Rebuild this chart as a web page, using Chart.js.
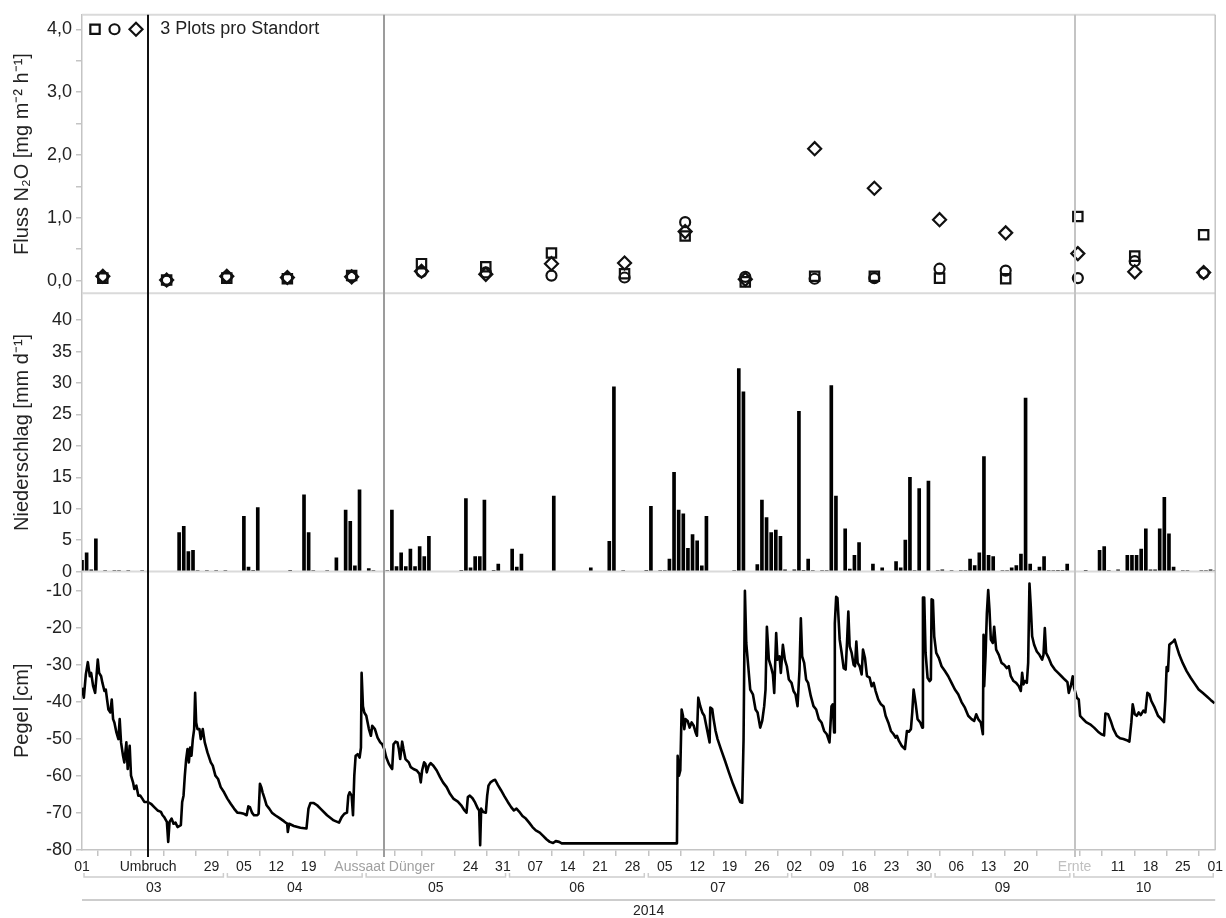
<!DOCTYPE html>
<html>
<head>
<meta charset="utf-8">
<script src="https://cdn.jsdelivr.net/npm/chart.js@4.4.1/dist/chart.umd.min.js"></script>
<style>
  html, body { margin: 0; padding: 0; background: #fff; }
</style>
</head>
<body>
<canvas id="chart" width="1226" height="918"></canvas>
<script>
// x values are days since 01.03.2014

// N2O flux per sampling date, three plots per site
const fluxDays = [4.5, 18.3, 31.3, 44.4, 58.3, 73.4, 87.3, 101.5, 117.3, 130.4, 143.4, 158.4, 171.3, 185.4, 199.7, 215.3, 227.6, 242.5];
const fluxPlotA = [0.04, 0.01, 0.04, 0.03, 0.08, 0.27, 0.22, 0.44, 0.11, 0.71, -0.02, 0.07, 0.07, 0.04, 0.03, 1.02, 0.39, 0.73];
const fluxPlotB = [0.06, 0.00, 0.06, 0.04, 0.06, 0.14, 0.13, 0.08, 0.05, 0.93, 0.06, 0.03, 0.04, 0.19, 0.16, 0.04, 0.31, 0.12];
const fluxPlotC = [0.07, 0.01, 0.07, 0.05, 0.06, 0.15, 0.10, 0.27, 0.28, 0.78, 0.02, 2.10, 1.47, 0.97, 0.76, 0.43, 0.14, 0.13];

// daily precipitation (days without rain left out)
const rainDays = [
  0, 1, 2, 3, 5, 7, 8, 10, 13, 21,
  22, 23, 24, 25, 27, 29, 31, 35, 36, 37,
  38, 45, 48, 49, 50, 53, 55, 57, 58, 59,
  60, 62, 63, 66, 67, 68, 69, 70, 71, 72,
  73, 74, 75, 82, 83, 84, 85, 86, 87, 89,
  90, 93, 94, 95, 102, 110, 114, 115, 117, 122,
  123, 125, 126, 127, 128, 129, 130, 131, 132, 133,
  134, 135, 141, 142, 143, 146, 147, 148, 149, 150,
  151, 152, 154, 155, 156, 157, 158, 160, 161, 162,
  163, 165, 166, 167, 168, 171, 173, 176, 177, 178,
  179, 180, 181, 183, 185, 186, 188, 190, 191, 192,
  193, 194, 195, 196, 197, 199, 200, 201, 202, 203,
  204, 205, 206, 207, 208, 209, 210, 211, 212, 213,
  217, 220, 221, 222, 224, 226, 227, 228, 229, 230,
  231, 232, 233, 234, 235, 236, 238, 239, 242, 243,
  244, 245
];
const rainMm = [
  1.8, 3.0, 0.3, 5.2, 0.1, 0.1, 0.1, 0.1, 0.1, 6.2,
  7.2, 3.2, 3.4, 0.1, 0.1, 0.1, 0.1, 8.8, 0.7, 0.2,
  10.2, 0.2, 12.2, 6.2, 0.1, 0.1, 2.2, 9.8, 8.0, 0.9,
  13.0, 0.5, 0.15, 0.1, 9.8, 0.8, 3.0, 0.8, 3.6, 0.8,
  4.0, 2.4, 5.6, 0.2, 11.6, 0.6, 2.4, 2.4, 11.4, 0.2,
  1.2, 3.6, 0.7, 2.8, 12.0, 0.6, 4.8, 29.4, 0.1, 0.2,
  10.4, 0.1, 0.1, 2.0, 15.8, 9.8, 9.2, 3.7, 5.9, 4.9,
  0.9, 8.8, 0.1, 32.3, 28.6, 1.1, 11.4, 8.6, 6.2, 6.6,
  5.6, 0.3, 0.3, 25.5, 0.2, 2.0, 0.1, 0.1, 0.1, 29.6,
  12.0, 6.8, 0.4, 2.6, 4.6, 1.2, 0.6, 1.6, 0.6, 5.0,
  15.0, 0.1, 13.2, 14.4, 0.1, 0.3, 0.1, 0.1, 0.1, 2.0,
  0.95, 3.0, 18.3, 2.6, 2.4, 0.1, 0.1, 0.6, 0.95, 2.8,
  27.6, 1.2, 0.1, 0.7, 2.4, 0.1, 0.1, 0.2, 0.2, 1.2,
  0.2, 3.4, 4.0, 0.1, 0.3, 2.6, 2.6, 2.6, 3.6, 6.8,
  0.3, 0.3, 6.8, 11.8, 6.0, 0.7, 0.1, 0.1, 0.1, 0.1,
  0.3, 0.1
];

// water table (Pegel)
const levelDays = [
  0, 0.4, 0.83, 1.26, 1.69, 1.98, 2.41, 2.84, 3.13, 3.41,
  3.7, 4.13, 4.42, 4.85, 5.14, 5.42, 5.71, 6.14, 6.43, 6.72,
  7.0, 7.44, 7.87, 8.15, 8.44, 8.87, 9.16, 9.59, 9.88, 10.31,
  10.6, 11.03, 11.31, 11.75, 12.18, 12.61, 13.04, 13.47, 14.19, 14.91,
  15.62, 16.34, 17.06, 17.42, 17.78, 18.35, 18.64, 18.93, 19.36, 19.79,
  20.22, 20.65, 21.37, 21.66, 21.95, 22.23, 22.52, 22.81, 23.1, 23.38,
  23.67, 23.96, 24.25, 24.46, 24.68, 24.96, 25.39, 25.68, 26.11, 26.54,
  27.12, 27.84, 28.27, 28.84, 29.42, 29.99, 30.71, 31.43, 32.15, 32.87,
  33.58, 34.3, 35.02, 35.6, 35.96, 36.31, 36.75, 37.18, 37.9, 38.18,
  38.47, 38.76, 39.04, 39.48, 39.91, 40.48, 41.06, 41.77, 42.64, 43.64,
  44.36, 44.5, 44.79, 45.8, 47.23, 48.53, 48.96, 49.39, 50.11, 50.83,
  51.55, 52.98, 54.42, 55.57, 56.14, 56.72, 57.29, 57.58, 57.87, 58.3,
  58.59, 58.87, 59.16, 59.59, 60.02, 60.31, 60.45, 60.74, 61.03, 61.46,
  62.03, 62.46, 62.75, 63.33, 63.9, 64.48, 64.91, 65.34, 65.77, 66.34,
  66.77, 67.06, 67.35, 67.78, 68.21, 68.5, 68.79, 69.22, 69.5, 69.93,
  70.65, 71.08, 71.66, 72.38, 72.95, 73.24, 73.53, 73.96, 74.25, 74.53,
  74.96, 75.39, 75.97, 76.69, 77.41, 78.05, 78.84, 79.56, 80.28,
  81.26, 81.98, 82.7, 83.13, 83.42, 83.85, 84.43, 85.0, 85.58, 85.87,
  86.08, 86.3, 86.73, 87.31, 87.6, 87.88, 88.32, 88.89, 89.32, 89.9,
  90.62, 91.34, 92.06, 92.78, 93.36, 93.93, 94.51, 95.23, 95.95, 96.67,
  97.39, 98.11, 98.97, 99.69, 100.41, 101.13, 101.85, 102.43, 103.15, 103.72,
  128.63, 128.78, 129.06, 129.35, 129.64, 129.93, 130.22, 130.5, 130.94, 131.37,
  131.8, 132.23, 132.66, 132.95, 133.24, 133.67, 134.1, 134.54, 134.97, 135.4,
  135.69, 135.83, 136.26, 136.55, 136.98, 137.41, 138.13, 139.0, 139.86, 140.73,
  141.59, 142.31, 142.74, 143.03, 143.32, 143.61, 144.04, 144.47, 145.05, 145.62,
  146.06, 146.63, 147.06, 147.49, 147.78, 148.07, 148.5, 148.94, 149.37, 149.66,
  150.08, 150.37, 150.8, 151.09, 151.53, 151.96, 152.39, 152.82, 153.4, 153.83,
  154.26, 154.7, 155.13, 155.41, 155.7, 156.13, 156.56, 156.99, 157.57, 158.15,
  158.73, 159.3, 159.88, 160.45, 161.03, 161.61, 162.04, 162.33, 162.61, 162.76,
  163.05, 163.33,
  163.81, 164.24, 164.67, 165.1, 165.39, 165.68, 165.97, 166.4, 166.83, 167.12,
  167.41, 167.7, 168.13, 168.56, 168.85, 169.28, 169.71, 170.29, 170.72, 171.15,
  171.58, 172.16, 172.74, 173.31, 173.74, 174.32, 174.89, 175.47, 175.9, 176.19,
  176.62, 177.2, 177.92, 178.35, 178.78, 179.21, 179.5, 179.79, 180.22, 180.65,
  181.23, 181.66, 181.81, 182.09, 182.38, 182.81, 183.25, 183.53, 183.68, 183.97,
  184.25, 184.69, 185.26, 185.84, 186.56, 187.28, 188.0, 188.72, 189.44, 190.16,
  190.88, 191.6, 192.32, 192.89, 193.33, 193.76, 194.33, 194.77, 194.91, 195.05,
  195.34, 195.63, 195.92, 196.2, 196.49, 196.93, 197.21, 197.64, 198.22, 198.8,
  199.37, 199.95, 200.38, 200.81, 201.39, 201.96, 202.54, 202.97, 203.26, 203.55,
  203.84, 204.27, 204.56, 204.84, 205.13, 205.42, 205.85, 206.43, 207.0, 207.58,
  207.87, 208.16, 208.44, 209.02, 209.6, 210.32, 211.04, 211.76, 212.47, 213.05,
  213.34, 213.77, 214.2, 214.49, 215.07, 215.5, 215.79, 216.36, 217.08, 217.95,
  218.81, 219.67, 220.4, 220.97, 221.26, 221.84, 222.41, 222.99, 223.71, 224.43,
  225.15, 225.87, 226.44, 226.87, 227.16, 227.6, 228.03, 228.46, 228.89, 229.47,
  229.9, 230.33, 230.76, 231.19, 231.91, 232.63, 233.35, 233.93, 234.22, 234.5,
  234.79, 235.08, 235.51, 235.94, 236.23, 236.66, 237.24, 237.96, 238.82, 239.69,
  240.55, 241.42, 242.28, 243.14, 244.01, 244.87
];
const levelCm = [
  -36.1, -38.8, -32.5, -29.2, -33.0, -32.1, -35.7, -37.5, -33.0, -28.5,
  -32.1, -33.0, -34.8, -37.0, -36.6, -39.3, -42.0, -42.8, -39.3, -44.6,
  -45.5, -48.2, -50.0, -44.6, -50.9, -54.5, -56.3, -50.9, -58.1, -51.8,
  -59.9, -61.7, -63.5, -62.6, -65.3, -65.3, -66.1, -67.0, -67.0, -67.5,
  -68.4, -69.3, -69.7, -70.6, -71.1, -72.4, -77.8, -72.4, -71.5, -72.9,
  -72.6, -73.8, -73.3, -67.0, -65.3, -59.9, -55.4, -52.7, -56.3, -52.3,
  -54.5, -50.0, -47.3, -37.5, -45.5, -47.3, -47.3, -50.0, -47.3, -50.9,
  -53.6, -56.3, -57.2, -59.9, -60.8, -63.0, -64.4, -66.1, -67.5, -68.8,
  -69.9, -70.0, -70.2, -70.6, -68.2, -68.4, -69.9, -70.6, -70.6, -70.2,
  -62.1, -63.0, -64.4, -66.1, -67.9, -68.8, -69.9, -70.6, -71.3, -72.2,
  -72.9, -75.1, -72.9, -73.5, -74.0, -74.2, -68.8, -67.3, -67.3, -67.9,
  -68.8, -70.6, -72.0, -72.6, -71.1, -70.2, -69.9, -65.3, -64.4, -65.3,
  -70.6, -59.9, -54.5, -54.1, -55.0, -52.3, -32.1, -41.1, -42.8, -43.7,
  -47.3, -49.1, -46.4, -47.3, -49.6, -50.9, -51.4, -52.7, -54.9, -56.7,
  -57.6, -58.1, -51.4, -50.7, -50.9, -52.7, -55.4, -50.7, -52.7, -55.4,
  -56.3, -57.6, -58.1, -58.5, -59.4, -61.7, -58.5, -56.3, -56.7, -59.0,
  -57.2, -56.5, -57.2, -58.5, -60.3, -61.7, -63.0, -64.8, -66.1,
  -66.9, -67.9, -69.3, -69.9, -65.7, -65.3, -66.0, -67.2, -68.8, -69.3,
  -78.7, -68.8, -69.7, -69.9, -65.3, -62.6, -61.7, -61.2, -61.0, -62.4,
  -63.9, -65.5, -67.0, -68.4, -69.3, -68.8, -69.6, -70.8, -71.5, -72.6,
  -73.8, -74.7, -75.3, -76.2, -77.1, -77.8, -78.1, -77.6, -77.8, -78.2,
  -78.2, -54.5, -59.9, -58.5, -42.0, -43.7, -47.3, -44.6, -45.1, -46.9,
  -45.5, -46.3, -48.2, -49.1, -38.8, -41.1, -42.8, -43.7, -46.4, -49.1,
  -50.9, -41.5, -41.9, -44.6, -47.8, -50.0, -52.7, -55.8, -59.0, -62.1,
  -64.8, -67.0, -67.2, -50.0, -9.9, -24.0, -30.3, -36.6, -37.9, -42.0,
  -42.8, -46.9, -45.1, -41.1, -36.6, -19.6, -28.5, -30.3, -32.5, -37.5,
  -21.3, -28.5, -27.6, -32.1, -24.5, -28.5, -30.3, -33.9, -34.8, -37.0,
  -37.9, -41.1, -31.2, -17.3, -27.6, -29.4, -33.9, -34.8, -38.4, -41.1,
  -42.0, -44.6, -45.5, -47.8, -48.7, -50.9, -41.1, -40.6, -48.2, -18.7,
  -11.5, -11.9,
  -23.1, -26.7, -30.8, -31.2, -24.0, -15.5, -24.9, -26.7, -29.9, -30.3,
  -23.6, -29.4, -30.3, -32.5, -25.8, -28.1, -33.0, -33.4, -35.7, -34.8,
  -37.0, -39.3, -40.6, -41.2, -43.7, -45.5, -47.8, -48.7, -49.6, -49.1,
  -50.5, -51.8, -52.7, -47.8, -48.0, -47.3, -42.8, -36.6, -40.2, -44.6,
  -45.5, -46.9, -11.7, -11.7, -26.7, -33.4, -34.3, -33.9, -12.2, -12.4,
  -22.2, -26.7, -28.1, -30.3, -31.6, -33.0, -34.8, -36.6, -37.9, -40.0,
  -41.5, -43.7, -44.6, -45.1, -43.3, -44.6, -45.5, -48.7, -21.8, -35.7,
  -27.6, -16.0, -9.7, -15.1, -23.1, -24.0, -19.6, -25.8, -27.2, -29.4,
  -29.9, -30.8, -30.3, -33.0, -34.3, -34.8, -35.7, -37.0, -32.1, -35.2,
  -34.3, -34.8, -29.4, -7.9, -14.2, -22.2, -24.5, -26.3, -27.2, -28.5,
  -27.2, -20.0, -26.7, -28.1, -29.9, -31.2, -32.1, -33.0, -33.9, -34.6,
  -37.5, -35.7, -33.0, -36.1, -38.8, -39.3, -43.7, -44.5, -45.4, -46.0,
  -46.9, -48.0, -48.7, -49.0, -43.1, -43.3, -45.1, -47.3, -49.1, -49.8,
  -50.0, -50.3, -50.7, -45.5, -40.6, -43.3, -43.7, -42.8, -43.5, -42.3,
  -42.8, -37.5, -37.9, -39.7, -41.5, -43.7, -44.6, -45.4, -39.3, -30.5,
  -31.6, -24.5, -24.0, -23.6, -23.1, -24.9, -27.2, -29.4, -31.6, -33.4,
  -35.0, -36.6, -37.5, -38.4, -39.4, -40.3
];

// field operations
const eventDays = [14.3, 65.4, 214.6];
const eventLabels = ['Umbruch', 'Aussaat Dünger', 'Ernte'];

// weekly tick labels (one every 7 days from day 0), blanks where an event label sits
const weekLabels = [
  '01', '', '', '', '29', '05', '12', '19', '', '',
  '', '', '24', '31', '07', '14', '21', '28', '05', '12',
  '19', '26', '02', '09', '16', '23', '30', '06', '13', '20',
  '', '', '11', '18', '25', '01'
];
const monthStarts = [0, 31, 61, 92, 122, 153, 184, 214, 245];
const monthLabels = ['03', '04', '05', '06', '07', '08', '09', '10'];
const yearLabel = '2014';

const fluxTicks = [0, 0.5, 1, 1.5, 2, 2.5, 3, 3.5, 4];
const rainTicks = [0, 5, 10, 15, 20, 25, 30, 35, 40];
const levelTicks = [-80, -70, -60, -50, -40, -30, -20, -10];

const plotStyles = ['rect', 'circle', 'rectRot'];
const plotRadius = [6.6, 5, 6.5];
const eventColors = ['#111111', '#9c9c9c', '#c4c4c4'];
const eventTextColors = ['#222222', '#a0a0a0', '#c0c0c0'];
const axisGrey = '#c4c4c4';
const ink = '#222222';

Chart.defaults.font.family = "'Liberation Sans', Arial, Helvetica, sans-serif";
Chart.defaults.color = ink;

const pts = (xs, ys) => xs.map((x, i) => ({ x, y: ys[i] }));

function buildXTicks() {
  const ticks = weekLabels.map((text, i) => ({ value: i * 7, text, event: -1 }));
  eventDays.forEach((d, i) => ticks.push({ value: d, text: eventLabels[i], event: i }));
  return ticks.sort((a, b) => a.value - b.value);
}

function yAxis(title, min, max, tickValues, format) {
  return {
    type: 'linear',
    position: 'left',
    stack: 'panels',
    stackWeight: 1,
    min: min,
    max: max,
    afterFit: s => { s.width = 82; },
    afterBuildTicks: s => { s.ticks = tickValues.map(v => ({ value: v })); },
    ticks: { autoSkip: false, font: { size: 18 }, color: ink, padding: 4, callback: format },
    grid: { drawOnChartArea: false, tickLength: 6, color: axisGrey, lineWidth: 1.5 },
    border: { color: axisGrey, width: 1.5 },
    title: { display: true, text: title, font: { size: 20 }, color: ink, padding: { top: 10, bottom: 0 } }
  };
}

function drawMarker(ctx, style, x, y, r) {
  ctx.beginPath();
  if (style === 'rect') {
    const s = r * Math.SQRT1_2;
    ctx.rect(x - s, y - s, 2 * s, 2 * s);
  } else if (style === 'circle') {
    ctx.arc(x, y, r, 0, Math.PI * 2);
  } else {
    ctx.moveTo(x - r, y);
    ctx.lineTo(x, y - r);
    ctx.lineTo(x + r, y);
    ctx.lineTo(x, y + r);
    ctx.closePath();
  }
  ctx.stroke();
}

function hLine(ctx, x0, x1, y) {
  ctx.beginPath();
  ctx.moveTo(x0, y);
  ctx.lineTo(x1, y);
  ctx.stroke();
}

// frame lines, event lines, legend, month brackets
const panelDecor = {
  id: 'panelDecor',
  afterDatasetsDraw(chart) {
    const { ctx, chartArea: area, scales } = chart;
    ctx.save();
    ctx.strokeStyle = '#dadada';
    ctx.lineWidth = 2;
    hLine(ctx, area.left, area.right, scales.yF.top);
    hLine(ctx, area.left, area.right, scales.yF.bottom);
    hLine(ctx, area.left, area.right, scales.yP.bottom);

    ctx.strokeStyle = axisGrey;
    ctx.lineWidth = 1.5;
    ctx.beginPath();
    ctx.moveTo(area.right, area.top);
    ctx.lineTo(area.right, area.bottom);
    ctx.stroke();

    eventDays.forEach((d, i) => {
      const px = Math.round(scales.x.getPixelForValue(d));
      ctx.strokeStyle = eventColors[i];
      ctx.lineWidth = 2;
      ctx.beginPath();
      ctx.moveTo(px, area.top);
      ctx.lineTo(px, area.bottom + 7);
      ctx.stroke();
    });
    ctx.restore();
  },
  afterDraw(chart) {
    const { ctx, chartArea: area, scales } = chart;
    const x = scales.x;
    ctx.save();

    // symbol key and note in the top panel
    const yTop = scales.yF.getPixelForValue(4);
    ctx.strokeStyle = '#111';
    ctx.lineWidth = 2.2;
    [13, 32.5, 54].forEach((dx, i) => drawMarker(ctx, plotStyles[i], area.left + dx, yTop, plotRadius[i]));
    ctx.fillStyle = ink;
    ctx.font = "18px 'Liberation Sans', Arial, sans-serif";
    ctx.textAlign = 'left';
    ctx.textBaseline = 'middle';
    ctx.fillText('3 Plots pro Standort', x.getPixelForValue(eventDays[0]) + 12, yTop);

    // month brackets under the day labels
    const yB = area.bottom + 27;
    ctx.strokeStyle = '#cdcdcd';
    ctx.lineWidth = 1.5;
    ctx.font = "14px 'Liberation Sans', Arial, sans-serif";
    ctx.textAlign = 'center';
    for (let i = 0; i < monthLabels.length; i++) {
      const a = x.getPixelForValue(monthStarts[i]) + 2;
      const b = x.getPixelForValue(monthStarts[i + 1]) - 2;
      ctx.beginPath();
      ctx.moveTo(a, yB - 4);
      ctx.lineTo(a, yB);
      ctx.lineTo(b, yB);
      ctx.lineTo(b, yB - 4);
      ctx.stroke();
      ctx.fillText(monthLabels[i], (a + b) / 2, area.bottom + 38);
    }

    // year row
    ctx.lineWidth = 2;
    hLine(ctx, area.left, area.right, area.bottom + 50);
    ctx.fillText(yearLabel, (area.left + area.right) / 2, area.bottom + 61);
    ctx.restore();
  }
};

const markerDataset = (values, i) => ({
  type: 'scatter',
  data: pts(fluxDays, values),
  yAxisID: 'yF',
  pointStyle: plotStyles[i],
  pointRadius: plotRadius[i],
  borderColor: '#111',
  backgroundColor: 'rgba(0,0,0,0)',
  borderWidth: 2.2
});

new Chart(document.getElementById('chart'), {
  type: 'line',
  data: {
    datasets: [
      {
        type: 'bar',
        data: pts(rainDays, rainMm),
        yAxisID: 'yP',
        backgroundColor: '#000',
        barThickness: 3,
        minBarLength: 1
      },
      {
        type: 'line',
        data: pts(levelDays, levelCm),
        yAxisID: 'yL',
        borderColor: '#000',
        borderWidth: 2.6,
        pointRadius: 0,
        tension: 0,
        borderJoinStyle: 'round'
      },
      markerDataset(fluxPlotA, 0),
      markerDataset(fluxPlotB, 1),
      markerDataset(fluxPlotC, 2)
    ]
  },
  options: {
    responsive: false,
    animation: false,
    events: [],
    layout: { padding: { top: 9, right: 10, left: 0, bottom: 0 } },
    plugins: { legend: { display: false }, tooltip: { enabled: false } },
    scales: {
      x: {
        type: 'linear',
        position: 'bottom',
        min: 0,
        max: 245,
        offset: false,
        afterFit: s => { s.height = 68; },
        afterBuildTicks: s => { s.ticks = buildXTicks(); },
        ticks: {
          autoSkip: false,
          maxRotation: 0,
          padding: 3,
          font: { size: 14 },
          color: c => (c.tick && c.tick.event >= 0 ? eventTextColors[c.tick.event] : ink),
          callback: (v, i, ticks) => ticks[i].text
        },
        grid: {
          drawOnChartArea: false,
          tickLength: 6,
          lineWidth: 1.5,
          color: axisGrey,
          tickColor: c => (c.tick && c.tick.event >= 0 ? 'rgba(0,0,0,0)' : axisGrey)
        },
        border: { color: axisGrey, width: 1.5 }
      },
      yL: yAxis('Pegel [cm]', -80, -4.7, levelTicks, v => String(v)),
      yP: yAxis('Niederschlag [mm d\u207B\u00B9]', 0, 44.3, rainTicks, v => String(v)),
      yF: yAxis('Fluss N\u2082O [mg m\u207B\u00B2 h\u207B\u00B9]', -0.2, 4.23, fluxTicks,
        v => (Number.isInteger(v) ? v.toFixed(1).replace('.', ',') : ''))
    }
  },
  plugins: [panelDecor]
});
</script>
</body>
</html>
